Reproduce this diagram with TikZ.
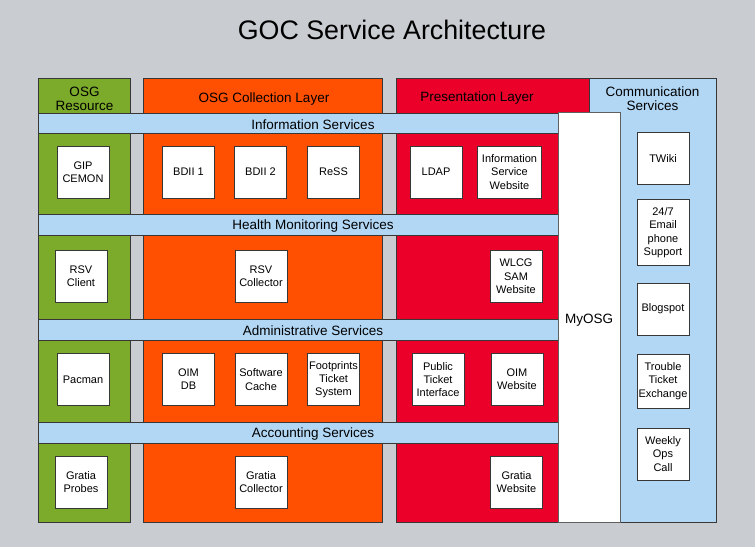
\documentclass[tikz,border=0pt]{standalone}
\usepackage{fontspec}
\setmainfont{Liberation Sans}
\definecolor{bg}{RGB}{201,205,209}
\definecolor{grn}{RGB}{124,170,42}
\definecolor{org}{RGB}{255,79,0}
\definecolor{rd}{RGB}{234,0,41}
\definecolor{lb}{RGB}{178,215,245}
\definecolor{edgec}{RGB}{55,55,55}
\tikzset{
  col/.style={draw=edgec, line width=0.8pt, inner sep=0pt, outer sep=0pt, anchor=north west},
  band/.style={draw=edgec, fill=lb, line width=0.8pt, inner sep=0pt, outer sep=0pt, anchor=north west, minimum width=520pt, minimum height=20.5pt},
  bandtxt/.style={font=\fontsize{13.5}{15}\selectfont, inner sep=0pt, yshift=-1pt},
  hdr/.style={font=\fontsize{13.5}{14.5}\selectfont, align=center, inner sep=0pt, yshift=-1pt},
  svc/.style={draw=edgec, fill=white, line width=0.8pt, minimum width=52pt, minimum height=52pt, inner sep=0pt, outer sep=0pt, align=center, font=\fontsize{11}{13.3}\selectfont},
}
\begin{document}
\begin{tikzpicture}[x=1pt,y=-1pt]
\fill[bg] (0,0) rectangle (755,547);
\useasboundingbox (0,0) rectangle (755,547);
% title
\node[font=\fontsize{26.8}{30}\selectfont, inner sep=0pt] (title) at (392,30) {GOC Service Architecture};
% columns
\node[col, fill=grn, minimum width=92pt, minimum height=444pt] (colres) at (38,78) {};
\node[col, fill=org, minimum width=239pt, minimum height=444pt] (colcoll) at (143,78) {};
\node[col, fill=rd, minimum width=193pt, minimum height=444pt] (colpres) at (396,78) {};
\node[col, fill=lb, minimum width=127pt, minimum height=444pt] (colcomm) at (589,78) {};
% headers
\node[hdr] (hres) at (84.5,98) {OSG\\Resource};
\node[hdr] (hcoll) at (264,98) {OSG Collection Layer};
\node[hdr] (hpres) at (477,97.5) {Presentation Layer};
\node[hdr] (hcomm) at (652.5,97.5) {Communication\\Services};
% bands
\node[band] (binfo) at (38,113) {};
\node[band] (bhealth) at (38,214.5) {};
\node[band] (badmin) at (38,319.5) {};
\node[band] (bacct) at (38,422.5) {};
\node[bandtxt] (tinfo) at (313,123.3) {Information Services};
\node[bandtxt] (thealth) at (313,225) {Health Monitoring Services};
\node[bandtxt] (tadmin) at (313,330) {Administrative Services};
\node[bandtxt] (tacct) at (313,433) {Accounting Services};
% MyOSG
\node[col, draw=edgec!80, fill=white, minimum width=62pt, minimum height=410pt] (myosg) at (558,112) {};
\node[bandtxt] (tmyosg) at (589,319.5) {MyOSG};
% row 1
\node[svc] (gip) at (83,172) {GIP\\CEMON};
\node[svc] (bdii1) at (188.5,172) {BDII 1};
\node[svc] (bdii2) at (260.5,172) {BDII 2};
\node[svc] (ress) at (333.5,172) {ReSS};
\node[svc] (ldap) at (436,172) {LDAP};
\node[svc, minimum width=64.5pt] (isw) at (509.5,172) {Information\\Service\\Website};
% row 2
\node[svc] (rsvc) at (81,276.5) {RSV\\Client};
\node[svc] (rsvcoll) at (261,276.5) {RSV\\Collector};
\node[svc] (wlcg) at (516,276.5) {WLCG\\SAM\\Website};
% row 3
\node[svc] (pacman) at (83,379.5) {Pacman};
\node[svc] (oimdb) at (188.5,379.5) {OIM\\DB};
\node[svc] (swcache) at (261,379.5) {Software\\Cache};
\node[svc] (footp) at (333.5,379.5) {Footprints\\Ticket\\System};
\node[svc] (pti) at (438,379.5) {Public\\Ticket\\Interface};
\node[svc] (oimweb) at (517,379.5) {OIM\\Website};
% row 4
\node[svc] (gprobes) at (81,482) {Gratia\\Probes};
\node[svc] (gcoll) at (261,482) {Gratia\\Collector};
\node[svc] (gweb) at (516.5,482) {Gratia\\Website};
% communication services
\node[svc] (twiki) at (663,158.3) {TWiki};
\node[svc, minimum height=66pt] (support) at (663,232.7) {24/7\\Email\\phone\\Support};
\node[svc] (blog) at (663,309) {Blogspot};
\node[svc, minimum height=54pt] (tte) at (663,381) {Trouble\\Ticket\\Exchange};
\node[svc] (weekly) at (663,454) {Weekly\\Ops\\Call};
\end{tikzpicture}
\end{document}
